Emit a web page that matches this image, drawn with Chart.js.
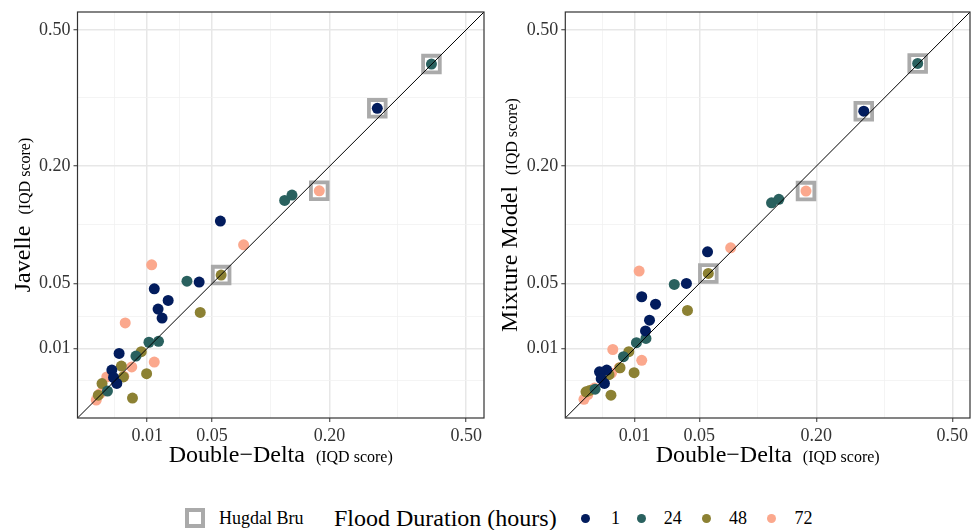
<!DOCTYPE html>
<html>
<head>
<meta charset="utf-8">
<script src="https://cdn.jsdelivr.net/npm/chart.js@4.4.1/dist/chart.umd.min.js"></script>
<style>
  html, body { margin: 0; padding: 0; background: #fff; }
  body { width: 971px; height: 530px; position: relative; overflow: hidden;
         font-family: 'Liberation Serif', 'Times New Roman', serif; color: #000; }
  canvas { position: absolute; top: 0; }
  #chart-left  { left: 0; }
  #chart-right { left: 490px; }
  .lg    { position: absolute; white-space: nowrap; }
  .lg-sq { position: absolute; box-sizing: border-box; width: 20px; height: 20px;
           border: 4px solid #aaaaaa; background: #fff; }
  .lg-dot { position: absolute; width: 9px; height: 9px; border-radius: 50%; }
</style>
</head>
<body>
<canvas id="chart-left" width="490" height="470"></canvas>
<canvas id="chart-right" width="481" height="470"></canvas>
<div id="legend"></div>

<script>
'use strict';

// ── Data (IQD scores) ─────────────────────────────────────────────────────────
// one array per flood duration; the first entry of each is the Hugdal Bru station
const durations = ['1', '24', '48', '72'];
const colours   = ['#021c5d', '#2a615f', '#8c8133', '#fba88d'];

const ddNavy   = [0.2894, 0.0573, 0.0396, 0.0129, 0.0196, 0.0146, 0.0165, 0.00218, 0.00108, 0.00179, 0.0013];
const javNavy  = [0.3107, 0.1174, 0.0513, 0.0456, 0.0367, 0.0306, 0.0249, 0.00819, 0.00345, 0.00111, 0.0020];
const mixNavy  = [0.3047, 0.0807, 0.0501, 0.0394, 0.0340, 0.0178, 0.0237, 0.00345, 0.00308, 0.00111, 0.0018];

const ddTeal   = [0.4109, 0.1308, 0.1411, 0.0309, 0.0107, 0.0148, 0.0062, 0.0006];
const javTeal  = [0.4119, 0.1460, 0.1538, 0.0521, 0.0125, 0.0129, 0.0073, 0.00035];
const mixTeal  = [0.4134, 0.1425, 0.1475, 0.0493, 0.0123, 0.0142, 0.0071, 0.0005];

const ddOlive  = [0.0580, 0.0404, 0.0079, 0.0098, 0.0052, 0.0026, 0.0030, 0.0002, 0.00005];
const javOlive = [0.0575, 0.0284, 0.0088, 0.0027, 0.00003, 0.0044, 0.0021, 0.0011, 0.00012];
const mixOlive = [0.0590, 0.0297, 0.0088, 0.0029, 0.0040, 0.0025, 0.00012, 0.0004, 0.0003];

const ddPeach  = [0.1828, 0.0804, 0.0118, 0.0034, 0.0129, 0.0050, 0.00054, 0.00011, 0.00001, 0.0031];
const javPeach = [0.1603, 0.0885, 0.0673, 0.0221, 0.0055, 0.0042, 0.0021, 0.0002, 0.000003, 0.0022];
const mixPeach = [0.1598, 0.0851, 0.0612, 0.0096, 0.0060, 0.0040, 0.0006, 0.00015, 0.00001, 0.0028];

const tickValues = [0.01, 0.05, 0.20, 0.50];
const tickLabels = ['0.01', '0.05', '0.20', '0.50'];

// axis limits, in sqrt units (the scale is square-root transformed)
const axisLo = -0.0325;
const axisHi = 0.741;

// ── Helpers ───────────────────────────────────────────────────────────────────
const SERIF = "'Liberation Serif', 'Times New Roman', serif";
const pts = (xs, ys) => xs.map((v, i) => ({ x: Math.sqrt(v), y: Math.sqrt(ys[i]) }));

// majors + ggplot style minors (half way between majors, in sqrt space)
const majors = tickValues.map(Math.sqrt);
const gridVals = [majors[0] - (majors[1] - majors[0]) / 2];
majors.forEach((m, i) => {
  gridVals.push(m);
  if (i < majors.length - 1) gridVals.push((m + majors[i + 1]) / 2);
});

function drawTwoPart(ctx, big, small, cx, y) {
  ctx.font = '24px ' + SERIF;
  const wb = ctx.measureText(big).width;
  ctx.font = '16px ' + SERIF;
  const ws = ctx.measureText(small).width;
  const gap = 11;
  const x = cx - (wb + gap + ws) / 2;
  ctx.textAlign = 'left';
  ctx.textBaseline = 'alphabetic';
  ctx.font = '24px ' + SERIF;
  ctx.fillText(big, x, y);
  ctx.font = '16px ' + SERIF;
  ctx.fillText(small, x + wb + gap, y);
}

function frameAndTitles(yName, yBase) {
  return {
    id: 'frameAndTitles',
    afterDraw(chart) {
      const { ctx, chartArea: a } = chart;
      ctx.save();
      ctx.strokeStyle = '#333';
      ctx.lineWidth = 1.2;
      ctx.strokeRect(a.left, a.top, a.right - a.left, a.bottom - a.top);
      ctx.fillStyle = '#000';
      drawTwoPart(ctx, 'Double−Delta', '(IQD score)', (a.left + a.right) / 2, 462);
      ctx.translate(yBase, (a.top + a.bottom) / 2);
      ctx.rotate(-Math.PI / 2);
      drawTwoPart(ctx, yName, '(IQD score)', 0, 0);
      ctx.restore();
    }
  };
}

function axis(fit) {
  return {
    type: 'linear',
    min: axisLo,
    max: axisHi,
    afterBuildTicks: s => { s.ticks = gridVals.map(v => ({ value: v })); },
    afterFit: s => {
      fit(s);
      s.paddingTop = s.paddingBottom = s.paddingLeft = s.paddingRight = 0;
    },
    ticks: {
      autoSkip: false, maxRotation: 0, padding: 3, color: '#333',
      font: { family: SERIF, size: 18 },
      callback: (v, i) => (i % 2 ? tickLabels[(i - 1) / 2] : ''),
    },
    grid: {
      color: c => (c.index % 2 ? '#e7e7e7' : '#f1f1f1'),
      lineWidth: c => (c.index % 2 ? 1.5 : 0.8),
      tickColor: c => (c.index % 2 ? '#333' : 'rgba(0,0,0,0)'),
      tickLength: 4,
      tickWidth: 1,
      drawTicks: true,
    },
    border: { display: false },
  };
}

// ── Panels ────────────────────────────────────────────────────────────────────
function makePanel(canvasId, yName, yBase, ySeries, yAxisWidth, padRight) {
  const xSeries = [ddNavy, ddTeal, ddOlive, ddPeach];
  const pointSets = xSeries.map((xs, k) => ({
    data: pts(xs, ySeries[k]),
    backgroundColor: colours[k],
    borderColor: colours[k],
    borderWidth: 0,
    pointRadius: 5.5,
    pointHoverRadius: 5.5,
    order: 1,
  }));
  const hugdal = {
    data: xSeries.map((xs, k) => pts(xs, ySeries[k])[0]),
    pointStyle: 'rect',
    pointRadius: 11.8,
    pointHoverRadius: 11.8,
    borderWidth: 3.8,
    borderColor: '#aaaaaa',
    backgroundColor: '#ffffff',
    order: 5,
  };
  const identity = {
    type: 'line',
    data: [{ x: axisLo, y: axisLo }, { x: axisHi, y: axisHi }],
    borderColor: '#000',
    borderWidth: 1,
    pointRadius: 0,
    order: 0,
  };

  return new Chart(document.getElementById(canvasId), {
    type: 'scatter',
    data: { datasets: [identity, ...pointSets, hugdal] },
    options: {
      responsive: false,
      animation: false,
      devicePixelRatio: 1,
      layout: { autoPadding: false, padding: { top: 12, right: padRight, left: 0, bottom: 0 } },
      plugins: { legend: { display: false }, tooltip: { enabled: false } },
      scales: {
        x: axis(s => { s.height = 52; }),
        y: axis(s => { s.width = yAxisWidth; }),
      },
    },
    plugins: [frameAndTitles(yName, yBase)],
  });
}

makePanel('chart-left',  'Javelle',       30, [javNavy, javTeal, javOlive, javPeach], 77.5, 6);
makePanel('chart-right', 'Mixture Model', 27, [mixNavy, mixTeal, mixOlive, mixPeach], 75.3, 1);

// ── Legend ────────────────────────────────────────────────────────────────────
const legend = document.getElementById('legend');
const dotX   = [581, 637, 701.5, 767];
const labelX = [611, 663.7, 729, 794.5];

legend.innerHTML =
  '<div class="lg-sq" style="left:185px;top:508px"></div>' +
  '<span class="lg" style="left:219px;top:507px;font-size:18px;line-height:22px">Hugdal Bru</span>' +
  '<span class="lg" style="left:334px;top:504px;font-size:24px;line-height:28px">Flood Duration (hours)</span>' +
  durations.map((d, k) =>
    `<div class="lg-dot" style="left:${dotX[k]}px;top:513.5px;background:${colours[k]}"></div>` +
    `<span class="lg" style="left:${labelX[k]}px;top:507px;font-size:18px;line-height:22px">${d}</span>`
  ).join('');
</script>
</body>
</html>
